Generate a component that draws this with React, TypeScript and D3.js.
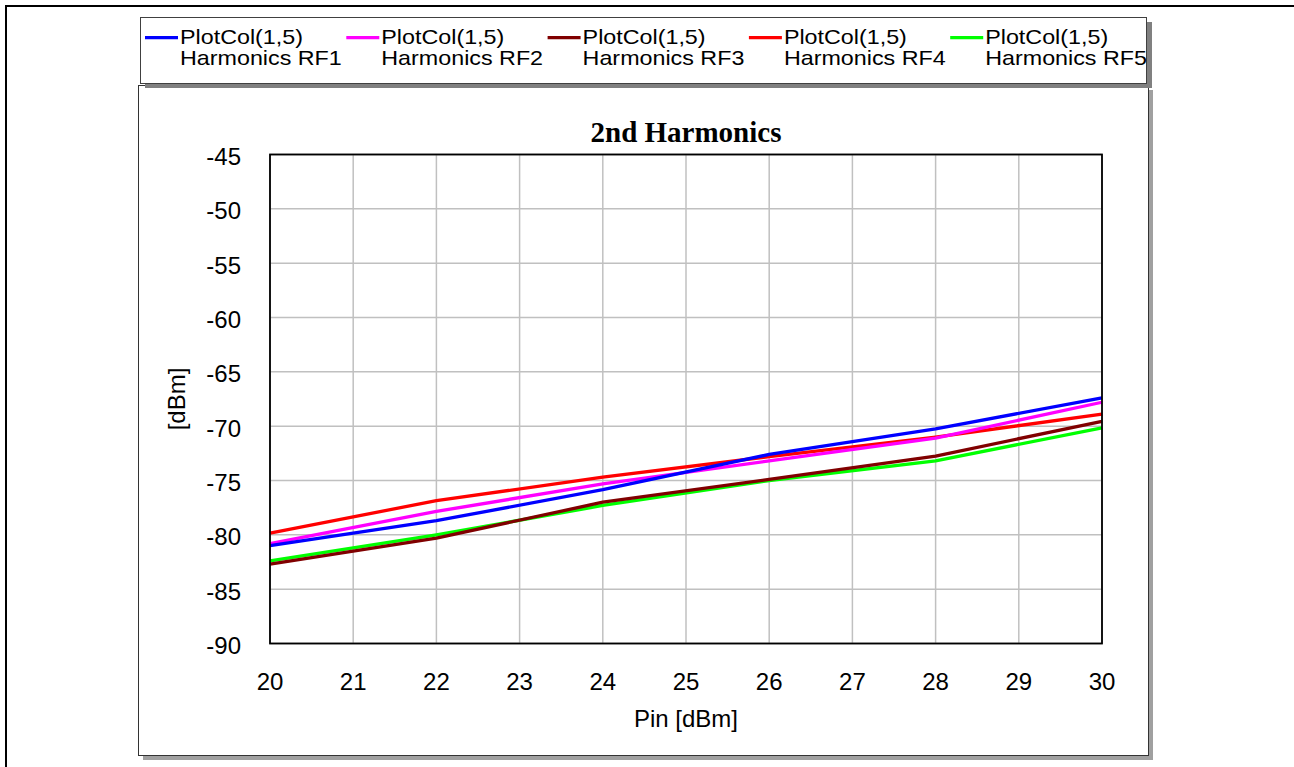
import React from 'react';
import { scaleLinear, line } from 'd3';

// x positions of the readings (Pin, dBm)
const pinValues = [20, 22, 24, 26, 28, 30];

// 2nd harmonic level per RF path, dBm
const rf1 = [-81.0, -78.7, -75.85, -72.6, -70.25, -67.4];
const rf2 = [-80.8, -77.85, -75.3, -73.2, -71.1, -67.8];
const rf3 = [-82.7, -80.3, -77.0, -74.9, -72.75, -69.55];
const rf4 = [-79.85, -76.85, -74.7, -72.8, -71.0, -68.9];
const rf5 = [-82.4, -80.0, -77.3, -75.0, -73.2, -70.15];

const seriesNames = ['Harmonics RF1', 'Harmonics RF2', 'Harmonics RF3', 'Harmonics RF4', 'Harmonics RF5'];
const seriesColors = ['#0000ff', '#ff00ff', '#800000', '#ff0000', '#00ff00'];
const seriesValues = [rf1, rf2, rf3, rf4, rf5];

const xTicks = [20, 21, 22, 23, 24, 25, 26, 27, 28, 29, 30];
const yTicks = [-90, -85, -80, -75, -70, -65, -60, -55, -50, -45];

const W = 1294;
const H = 767;
const sans = '"Liberation Sans", Arial, sans-serif';

// plot area
const left = 270, right = 1102, top = 154.5, bottom = 643.5;

const App = () => {
  const x = scaleLinear().domain([20, 30]).range([left, right]);
  const y = scaleLinear().domain([-90, -45]).range([bottom, top]);

  const lineGen = line<number>()
    .x((_, i) => x(pinValues[i]))
    .y(d => y(d));

  // draw RF5 first so RF1 ends up on top
  const drawOrder = [4, 3, 2, 1, 0];

  return (
    <svg width={W} height={H} style={{ position: 'absolute', left: 0, top: 0 }}>
      <rect width={W} height={H} fill="#fff" />
      {/* outer frame, runs off the picture on right and bottom */}
      <rect x={6} y={6} width={1400} height={900} fill="none" stroke="#000" strokeWidth={2} />

      {/* chart panel + shadow */}
      <rect x={143} y={90} width={1010} height={670} fill="#a0a0a0" />
      <rect x={138.5} y={85.5} width={1010} height={670} fill="#fff" stroke="#333" strokeWidth={1} />

      {/* legend panel + shadow */}
      <rect x={145} y={22} width={1007} height={66} fill="#808080" />
      <rect x={140.5} y={17.5} width={1006} height={66} fill="#fff" stroke="#404040" strokeWidth={1} />

      {seriesNames.map((name, i) => {
        const lx = 145 + i * 201.3;
        return (
          <g key={name}>
            <line x1={lx} x2={lx + 33} y1={37.7} y2={37.7} stroke={seriesColors[i]} strokeWidth={3.2} />
            <text transform={`translate(${lx + 35},43.5) scale(1.165,1)`} fontFamily={sans} fontSize={20} fill="#000">
              PlotCol(1,5)
            </text>
            <text transform={`translate(${lx + 35},64.5) scale(1.165,1)`} fontFamily={sans} fontSize={20} fill="#000">
              {name}
            </text>
          </g>
        );
      })}

      {/* title */}
      <text x={(left + right) / 2} y={141.7} textAnchor="middle" fontFamily='"Liberation Serif", "Times New Roman", serif'
        fontWeight="bold" fontSize={29}>
        2nd Harmonics
      </text>

      {/* grid */}
      {xTicks.map(t => (
        <line key={'gx' + t} x1={x(t)} x2={x(t)} y1={top} y2={bottom} stroke="#c0c0c0" strokeWidth={1.5} />
      ))}
      {yTicks.map(t => (
        <line key={'gy' + t} x1={left} x2={right} y1={y(t)} y2={y(t)} stroke="#c0c0c0" strokeWidth={1.5} />
      ))}

      {/* series */}
      {drawOrder.map(i => (
        <path key={seriesNames[i]} d={lineGen(seriesValues[i]) || ''} fill="none"
          stroke={seriesColors[i]} strokeWidth={3.3} strokeLinejoin="round" />
      ))}

      {/* plot frame */}
      <rect x={left} y={top} width={right - left} height={bottom - top} fill="none" stroke="#000" strokeWidth={1.8} />

      {/* tick labels */}
      {yTicks.map(t => (
        <text key={'ly' + t} x={241} y={y(t) + 10.5} textAnchor="end" fontFamily={sans} fontSize={24}>
          {t}
        </text>
      ))}
      {xTicks.map(t => (
        <text key={'lx' + t} x={x(t)} y={690} textAnchor="middle" fontFamily={sans} fontSize={24}>
          {t}
        </text>
      ))}

      {/* axis titles */}
      <text x={(left + right) / 2} y={727} textAnchor="middle" fontFamily={sans} fontSize={24}>
        Pin [dBm]
      </text>
      <text transform={`translate(185,${(top + bottom) / 2}) rotate(-90)`} textAnchor="middle" fontFamily={sans} fontSize={24}>
        [dBm]
      </text>
    </svg>
  );
};

export default App;
